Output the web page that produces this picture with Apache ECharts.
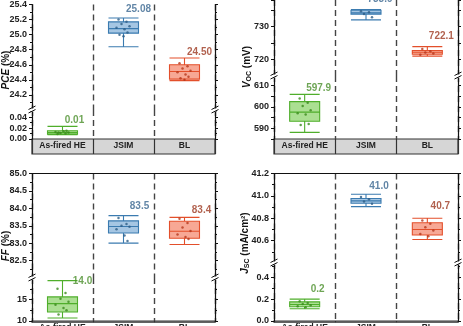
<!DOCTYPE html>
<html><head><meta charset="utf-8">
<script src="https://cdn.jsdelivr.net/npm/echarts@6/dist/echarts.min.js"></script>
<style>html,body{margin:0;padding:0;background:#fff}#c{width:463px;height:326px}</style>
</head><body><div id="c"></div>
<script>
// ---------- DATA ----------
const categories = ['As-fired HE', 'JSIM', 'BL'];
// box stats: [min, Q1, median, Q3, max]
const pceBox = [[0.008, 0.009, 0.012, 0.015, 0.023], [24.84, 25.02, 25.08, 25.17, 25.22], [24.39, 24.41, 24.51, 24.60, 24.69]];
const pceLabels = ['0.01', '25.08', '24.50'];
const pcePoints = [[0.009, 0.010, 0.011, 0.012, 0.013, 0.014, 0.015, 0.012], [25.20, 25.17, 25.14, 25.11, 25.09, 25.07, 25.03, 25.00, 24.98], [24.62, 24.58, 24.55, 24.52, 24.50, 24.47, 24.44, 24.42, 24.40]];
const vocBox = [[588.1, 593.3, 597.6, 602.5, 605.9], [732.0, 733.7, 734.1, 734.9, 735.1], [721.0, 721.6, 722.2, 722.7, 723.9]];
const vocLabels = ['597.9', '733.9', '722.1'];
const vocPoints = [[604.0, 602.0, 600.5, 598.5, 597.0, 596.5, 592.0, 591.5], [734.6, 734.3, 733.8, 732.8], [723.2, 722.5, 722.1, 721.8, 721.4]];
const ffBox = [[10.7, 12.1, 14.05, 15.6, 19.4], [83.0, 83.29, 83.48, 83.64, 83.79], [82.96, 83.14, 83.34, 83.63, 83.74]];
const ffLabels = ['14.0', '83.5', '83.4'];
const ffPoints = [[17.5, 16.5, 15.2, 14.5, 13.8, 13.0, 12.5, 11.5], [83.72, 83.55, 83.50, 83.47, 83.40, 83.22, 83.06], [83.70, 83.58, 83.45, 83.35, 83.25, 83.18, 83.12]];
const jscBox = [[0.112, 0.13, 0.151, 0.175, 0.2], [40.904, 40.934, 40.955, 40.976, 41.015], [40.61, 40.65, 40.70, 40.76, 40.80]];
const jscLabels = ['0.2', '41.0', '40.7'];
const jscPoints = [[0.18, 0.165, 0.155, 0.145, 0.135, 0.125], [40.99, 40.97, 40.95, 40.93], [40.78, 40.75, 40.72, 40.69, 40.66, 40.64]];

// ---------- STYLE / LAYOUT ----------
const FONT = '"Liberation Sans", Arial, sans-serif';
const palette = [
  { border: '#4fae2b', fill: 'rgba(126,206,88,0.65)', dot: '#3a8a1c', label: '#4a8f2a' },
  { border: '#3b7bb0', fill: 'rgba(116,168,212,0.65)', dot: '#2c5c86', label: '#3a6690' },
  { border: '#e34f2b', fill: 'rgba(242,122,92,0.65)', dot: '#b5361a', label: '#9e3a22' }
];
const jitter = [-5, 3, -2, 6, -7, 1, 4, -4, 0, 7];

const panels = [
  { box: pceBox, pts: pcePoints, labels: pceLabels, left: 32, width: 183, top: 0, brk: 110, bottom: 139, bandH: 15,
    uMin: 24.0, uMax: 25.4, uInt: 0.2, lMin: 0, lMax: 0.053, lInt: 0.02,
    uFmt: v => v.toFixed(1), lFmt: v => v.toFixed(2), minor: true, topLine: false,
    offs: [[12, -6], [15, -9], [15, -6]], nameX: 6, nameY: 70, name: '{i|PCE} (%)' },
  { box: vocBox, pts: vocPoints, labels: vocLabels, left: 274, width: 184, top: 0, brk: 76, bottom: 139, bandH: 15,
    uMin: 715, uMax: 738, uInt: 5, lMin: 585, lMax: 614.5, lInt: 5,
    uFmt: v => (Math.round(v) % 10 === 0 ? String(Math.round(v)) : ''), lFmt: v => (Math.round(v) % 10 === 0 ? String(Math.round(v)) : ''),
    minor: false, topLine: false,
    offs: [[14, -6], [14, -10], [14, -10]], nameX: 247, nameY: 67, name: '{i|V}{sub|OC} (mV)' },
  { box: ffBox, pts: ffPoints, labels: ffLabels, left: 32, width: 183, top: 173.5, brk: 278, bottom: 321, bandH: 5,
    uMin: 82, uMax: 85, uInt: 0.5, lMin: 10, lMax: 20, lInt: 5,
    uFmt: v => v.toFixed(1), lFmt: v => String(Math.round(v)), minor: true, topLine: true,
    offs: [[20, 1], [16, -9], [17, -7]], nameX: 6, nameY: 246, name: '{i|FF} (%)' },
  { box: jscBox, pts: jscPoints, labels: jscLabels, left: 274, width: 184, top: 173.5, brk: 263, bottom: 321, bandH: 5,
    uMin: 40.4, uMax: 41.2, uInt: 0.2, lMin: 0, lMax: 0.53, lInt: 0.2,
    uFmt: v => v.toFixed(1), lFmt: v => v.toFixed(1), minor: true, topLine: true,
    offs: [[13, -10], [13, -8], [13, -12]], nameX: 245, nameY: 243, name: '{i|J}{sub|SC} (mA/cm²)' }
];

const grid = [], xAxis = [], yAxis = [], series = [], graphic = [];
const tickLabel = { fontFamily: FONT, fontWeight: 'bold', fontSize: 9, color: '#222', margin: 5 };

function yAx(gi, min, max, interval, fmt, minor, side, hideMin, hideMax) {
  const left = side === 'left';
  return {
    type: 'value', gridIndex: gi, position: side, min, max, interval,
    axisLine: { show: true, onZero: false, lineStyle: { color: '#111', width: 1.2 } },
    axisTick: { show: true, inside: false, length: 3, lineStyle: { color: '#111', width: 1 } },
    minorTick: { show: minor, splitNumber: 2, length: 2, lineStyle: { color: '#111' } },
    axisLabel: Object.assign({ show: left, formatter: fmt, showMinLabel: !hideMin, showMaxLabel: !hideMax }, tickLabel),
    splitLine: { show: false }
  };
}

panels.forEach(p => {
  const gU = grid.length;
  grid.push({ left: p.left, width: p.width, top: p.top, height: p.brk - p.top });
  grid.push({ left: p.left, width: p.width, top: p.brk, height: p.bottom - p.brk });
  grid.push({ left: p.left, width: p.width, top: p.bottom, height: p.bandH, show: true, backgroundColor: '#d6d6d6', borderColor: '#333', borderWidth: 1.2 });
  const gL = gU + 1, gB = gU + 2;
  const dash = { show: true, interval: 0, lineStyle: { color: '#444', width: 1.4, type: [6, 4] } };
  const xU = xAxis.length;
  xAxis.push({ type: 'category', gridIndex: gU, data: categories, position: 'top', boundaryGap: true,
    axisLine: { show: p.topLine, lineStyle: { color: '#111', width: 1.2 } }, axisTick: { show: false, interval: 0 }, axisLabel: { show: false, interval: 0 }, splitLine: dash });
  xAxis.push({ type: 'category', gridIndex: gL, data: categories, position: 'bottom', boundaryGap: true,
    axisLine: { show: false }, axisTick: { show: false, interval: 0 }, axisLabel: { show: false, interval: 0 }, splitLine: dash });
  xAxis.push({ type: 'category', gridIndex: gB, data: categories, position: 'top', boundaryGap: true,
    axisLine: { show: false }, axisTick: { show: false, interval: 0 },
    axisLabel: { show: true, interval: 0, inside: true, margin: 2, fontFamily: FONT, fontWeight: 'bold', fontSize: 8.5, color: '#222' },
    splitLine: { show: true, interval: 0, lineStyle: { color: '#333', width: 1.2 } } });
  const xL = xU + 1;
  const yU = yAxis.length;
  yAxis.push(yAx(gU, p.uMin, p.uMax, p.uInt, p.uFmt, p.minor, 'left', true, false));
  yAxis.push(yAx(gU, p.uMin, p.uMax, p.uInt, p.uFmt, p.minor, 'right', true, false));
  yAxis.push(yAx(gL, p.lMin, p.lMax, p.lInt, p.lFmt, p.minor, 'left', false, true));
  yAxis.push(yAx(gL, p.lMin, p.lMax, p.lInt, p.lFmt, p.minor, 'right', false, true));
  yAxis.push({ type: 'value', gridIndex: gB, show: false });
  const yL = yU + 2;

  const boxItems = { U: [], L: [] };
  categories.forEach((cat, c) => {
    const b = p.box[c];
    const lower = b[4] <= p.lMax;
    const xi = lower ? xL : xU, yi = lower ? yL : yU;
    const col = palette[c];
    boxItems[lower ? 'L' : 'U'].push({ value: [c].concat(b), itemStyle: { color: col.fill, borderColor: col.border, borderWidth: 1.1 } });
    series.push({ type: 'scatter', xAxisIndex: xi, yAxisIndex: yi, silent: true, z: 3, symbolSize: 2.5,
      itemStyle: { color: col.dot },
      data: p.pts[c].map((v, i) => ({ value: [c, v], symbolOffset: [jitter[i % jitter.length], 0] })) });
    series.push({ type: 'scatter', xAxisIndex: xi, yAxisIndex: yi, silent: true, z: 4, symbolSize: 1,
      itemStyle: { color: 'rgba(0,0,0,0)' },
      label: { show: true, position: 'inside', offset: p.offs[c], formatter: p.labels[c], color: col.label,
        fontFamily: FONT, fontWeight: 'bold', fontSize: 10 },
      data: [[c, b[4]]] });
  });
  [['U', xU, yU], ['L', xL, yL]].forEach(([k, xi, yi]) => {
    if (!boxItems[k].length) return;
    series.push({ type: 'boxplot', xAxisIndex: xi, yAxisIndex: yi, silent: true, z: 2,
      data: boxItems[k], encode: { x: 0, y: [1, 2, 3, 4, 5] }, boxWidth: [30, 30] });
  });

  // break marks
  [p.left, p.left + p.width].forEach(x => {
    graphic.push({ type: 'rect', shape: { x: x - 4, y: p.brk - 1.5, width: 8, height: 3 }, style: { fill: '#fff' }, z: 100 });
    graphic.push({ type: 'line', shape: { x1: x - 3.5, y1: p.brk - 0.5, x2: x + 3.5, y2: p.brk - 4 }, style: { stroke: '#111', lineWidth: 1 }, z: 101 });
    graphic.push({ type: 'line', shape: { x1: x - 3.5, y1: p.brk + 3, x2: x + 3.5, y2: p.brk - 0.5 }, style: { stroke: '#111', lineWidth: 1 }, z: 101 });
  });
  // axis name
  graphic.push({ type: 'text', x: p.nameX, y: p.nameY, rotation: Math.PI / 2, z: 100,
    style: { text: p.name, align: 'center', verticalAlign: 'middle', fill: '#111',
      font: 'bold 10px ' + FONT,
      rich: { i: { fontStyle: 'italic', fontWeight: 'bold', fontSize: 10, fontFamily: FONT, fill: '#111' },
              sub: { fontWeight: 'bold', fontSize: 7, fontFamily: FONT, fill: '#111', verticalAlign: 'bottom', padding: [5, 0, 0, 0] } } } });
});

const chart = echarts.init(document.getElementById('c'), null, { renderer: 'canvas' });
chart.setOption({ animation: false, backgroundColor: '#fff', grid, xAxis, yAxis, series, graphic });
</script></body></html>
